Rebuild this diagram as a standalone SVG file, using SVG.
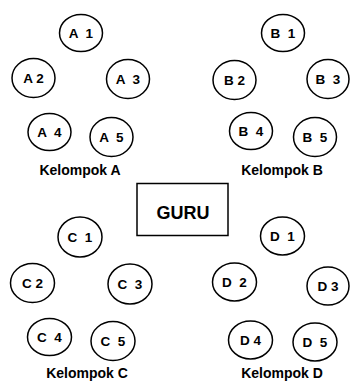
<svg xmlns="http://www.w3.org/2000/svg" width="350" height="383" viewBox="0 0 350 383">
<style>
.s{fill:#fff;stroke:#000;stroke-width:1.5}
.l{font-family:"Liberation Sans",Arial,sans-serif;font-weight:bold;font-size:13.5px;text-anchor:middle;white-space:pre;fill:#000}
.k{font-family:"Liberation Sans",Arial,sans-serif;font-weight:bold;font-size:14px;text-anchor:middle;fill:#000}
.g{font-family:"Liberation Sans",Arial,sans-serif;font-weight:bold;font-size:18px;text-anchor:middle;fill:#000}
</style>
<rect width="350" height="383" fill="#fff"/>
<g id="connectors"/>
<g id="A1"><ellipse class="s" cx="81" cy="33" rx="21.5" ry="18.5"/><text class="l" x="81" y="37.5">A  1</text></g>
<g id="A2"><ellipse class="s" cx="33.5" cy="78" rx="21.5" ry="19.5"/><text class="l" x="33.5" y="82.5">A 2</text></g>
<g id="A3"><ellipse class="s" cx="128" cy="79" rx="21.5" ry="19.5"/><text class="l" x="128" y="83.5">A  3</text></g>
<g id="A4"><ellipse class="s" cx="49.5" cy="132" rx="21.5" ry="18.5"/><text class="l" x="49.5" y="136.5">A  4</text></g>
<g id="A5"><ellipse class="s" cx="111.5" cy="137" rx="21.5" ry="19.5"/><text class="l" x="111.5" y="141.5">A  5</text></g>
<g id="KA"><text class="k" x="80" y="175">Kelompok A</text></g>
<g id="B1"><ellipse class="s" cx="283" cy="33" rx="21.5" ry="18.5"/><text class="l" x="283" y="37.5">B  1</text></g>
<g id="B2"><ellipse class="s" cx="234.5" cy="80" rx="21.5" ry="19.5"/><text class="l" x="234.5" y="84.5">B 2</text></g>
<g id="B3"><ellipse class="s" cx="328" cy="79" rx="21" ry="19.5"/><text class="l" x="328" y="83.5">B  3</text></g>
<g id="B4"><ellipse class="s" cx="251" cy="131" rx="21.5" ry="18.5"/><text class="l" x="251" y="135.5">B  4</text></g>
<g id="B5"><ellipse class="s" cx="315" cy="137" rx="21.5" ry="19.5"/><text class="l" x="315" y="141.5">B  5</text></g>
<g id="KB"><text class="k" x="282" y="175">Kelompok B</text></g>
<g id="GURU"><rect class="s" x="137" y="183.5" width="91" height="52"/><text class="g" x="183" y="219">GURU</text></g>
<g id="C1"><ellipse class="s" cx="80" cy="237" rx="22" ry="20"/><text class="l" x="80" y="241.5">C  1</text></g>
<g id="C2"><ellipse class="s" cx="32.5" cy="283" rx="22" ry="19.5"/><text class="l" x="32.5" y="287.5">C 2</text></g>
<g id="C3"><ellipse class="s" cx="130" cy="284" rx="22" ry="20"/><text class="l" x="130" y="288.5">C  3</text></g>
<g id="C4"><ellipse class="s" cx="49.5" cy="337" rx="22" ry="18.5"/><text class="l" x="49.5" y="341.5">C  4</text></g>
<g id="C5"><ellipse class="s" cx="113" cy="341" rx="22" ry="19.5"/><text class="l" x="113" y="345.5">C  5</text></g>
<g id="KC"><text class="k" x="87" y="378">Kelompok C</text></g>
<g id="D1"><ellipse class="s" cx="282.5" cy="236" rx="22" ry="19"/><text class="l" x="282.5" y="240.5">D  1</text></g>
<g id="D2"><ellipse class="s" cx="234.5" cy="282" rx="22" ry="19"/><text class="l" x="234.5" y="286.5">D  2</text></g>
<g id="D3"><ellipse class="s" cx="328" cy="286" rx="21" ry="19"/><text class="l" x="328" y="290.5">D 3</text></g>
<g id="D4"><ellipse class="s" cx="250.5" cy="340" rx="22" ry="19"/><text class="l" x="250.5" y="344.5">D 4</text></g>
<g id="D5"><ellipse class="s" cx="315" cy="342" rx="22" ry="19"/><text class="l" x="315" y="346.5">D  5</text></g>
<g id="KD"><text class="k" x="282" y="378">Kelompok D</text></g>
</svg>
